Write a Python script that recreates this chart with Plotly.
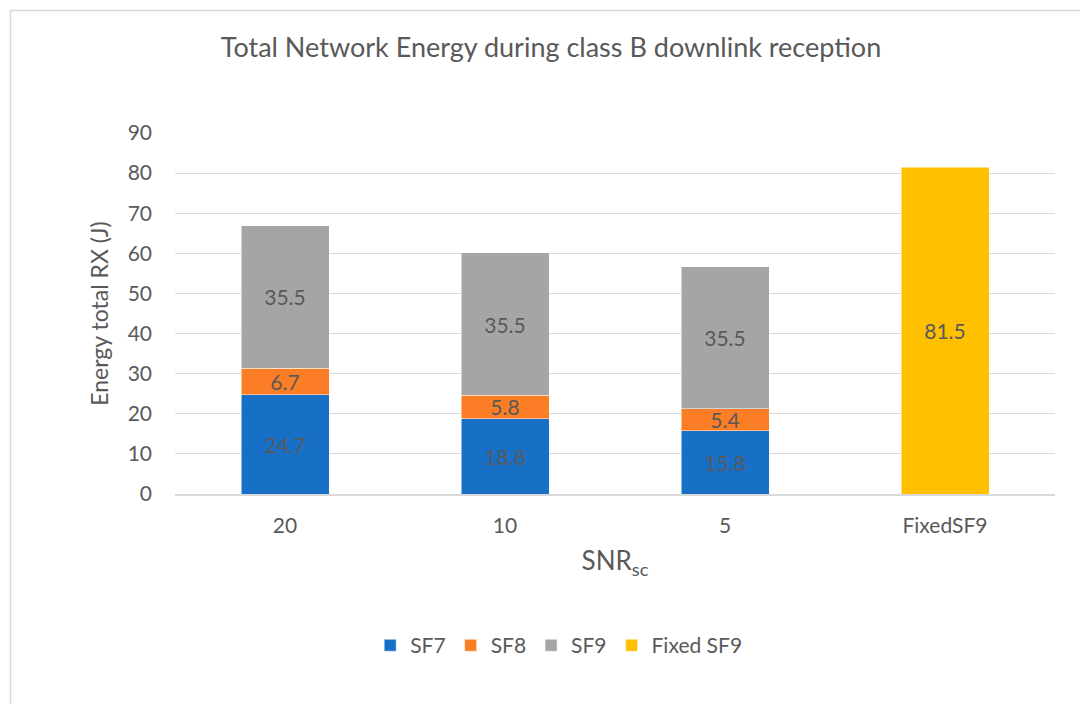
import plotly.graph_objects as go

categories = ["20", "10", "5", "FixedSF9"]
sf7 = [24.7, 18.8, 15.8, None]
sf8 = [6.7, 5.8, 5.4, None]
sf9 = [35.5, 35.5, 35.5, None]
fixed_sf9 = [None, None, None, 81.5]
y_ticks = [0, 10, 20, 30, 40, 50, 60, 70, 80, 90]

FONT = "Lato"
GREY = "#595959"

fig = go.Figure()
series = [
    ("SF7", sf7, "#1870C6"),
    ("SF8", sf8, "#FB7D25"),
    ("SF9", sf9, "#A5A5A5"),
    ("Fixed SF9", fixed_sf9, "#FFC000"),
]
for name, vals, color in series:
    xs = [c for c, v in zip(categories, vals) if v is not None]
    ys = [v for v in vals if v is not None]
    fig.add_trace(go.Bar(
        name=name, x=xs, y=ys,
        marker=dict(color=color, line=dict(color="white", width=0.5)),
        width=0.4,
        text=[f"{v:.1f}" for v in ys],
        textposition="inside", insidetextanchor="middle", textangle=0,
        constraintext="none",
        textfont=dict(family=FONT, size=21, color=GREY),
    ))

fig.update_layout(
    barmode="stack",
    width=1080, height=704,
    paper_bgcolor="white", plot_bgcolor="white",
    margin=dict(l=175, r=25, t=133, b=210),
    font=dict(family=FONT, color=GREY, size=21),
    title=dict(text="Total Network Energy during class B downlink reception",
               x=551 / 1080, xanchor="center", y=1 - 48 / 704, yanchor="middle",
               font=dict(family=FONT, size=27, color=GREY)),
    xaxis=dict(categoryorder="array", categoryarray=categories,
               showgrid=False, showline=True, linecolor="#D9D9D9", linewidth=2,
               ticks="", tickfont=dict(size=21, color=GREY),
               ticklabelstandoff=12,
               title=dict(text="SNR<sub>sc</sub>", font=dict(size=26, color=GREY), standoff=16)),
    yaxis=dict(range=[0, 90], tickvals=y_ticks, showgrid=True, gridcolor="#D9D9D9",
               gridwidth=1, zeroline=False, ticks="", showline=False,
               tickfont=dict(size=21, color=GREY), ticklabelstandoff=22,
               title=dict(text="Energy total RX (J)", font=dict(size=23, color=GREY), standoff=12)),
    legend=dict(orientation="h", x=0.436, xanchor="center", y=-0.42, yanchor="middle",
                font=dict(size=21, color=GREY), itemwidth=30,
                traceorder="normal"),
    showlegend=True,
)

fig.add_shape(type="rect", xref="paper", yref="paper",
              x0=-(175 - 10.5) / 880, x1=(1080 - 175 + 5) / 880,
              y0=-(704 - 494 + 5) / 361, y1=(494 - 10.5) / 361,
              line=dict(color="#D9D9D9", width=1.5), fillcolor="rgba(0,0,0,0)", layer="below")

fig.write_html("out.html", config={"displayModeBar": False},
               post_script="document.body.style.margin='0';")
